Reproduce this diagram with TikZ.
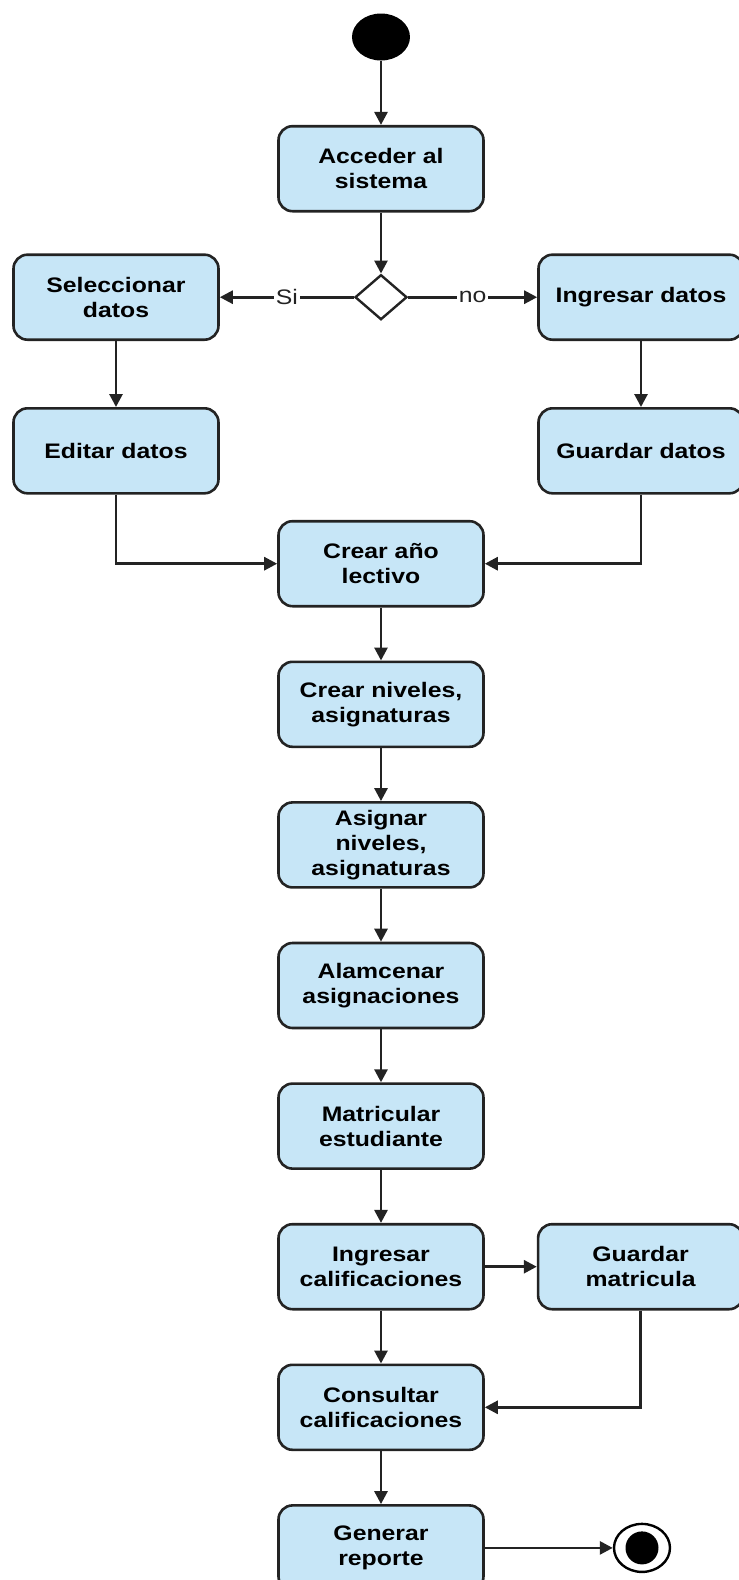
\documentclass[tikz,border=0pt]{standalone}
\usepackage{fontspec}
\setmainfont{Liberation Sans}[FakeStretch=1.18]
\usepackage{tikz}
\usetikzlibrary{
    positioning,
    arrows.meta,
    shapes.geometric
}
\definecolor{actfill}{RGB}{199,230,247}
\definecolor{lineclr}{RGB}{35,35,35}

\begin{document}
\begin{tikzpicture}[
    node distance=26.5pt,
    every node/.style={font=\fontsize{10.5pt}{12.5pt}\selectfont},
    activity/.style={rectangle, rounded corners=7pt, draw=lineclr, fill=actfill, line width=1.3pt, align=center, minimum width=102.5pt, minimum height=42.5pt, font=\fontsize{10.5pt}{12.5pt}\selectfont\bfseries},
    choice/.style={diamond, draw=lineclr, fill=white, line width=1.2pt, minimum width=26pt, minimum height=22.5pt, inner sep=0pt},
    startnode/.style={ellipse, fill=black, minimum width=29pt, minimum height=23.5pt, inner sep=0pt},
    endnode/.style={ellipse, draw=black, fill=white, line width=1.2pt, minimum width=28pt, minimum height=24pt, inner sep=0pt},
    guard/.style={fill=white, inner sep=1pt, text=lineclr},
    arrow/.style={-{Triangle[length=6.5pt, width=6.5pt]}, line width=1.4pt, draw=lineclr}
]
\useasboundingbox (-190.5pt,18.5pt) rectangle (179pt,-771.5pt);

\node[startnode] (start) at (0,0) {};
\node[activity, below=32pt of start] (acceder) {Acceder al\\sistema};
\node[choice, below=30.5pt of acceder] (decision) {};
\node[activity, left=67pt of decision] (seleccionar) {Seleccionar\\datos};
\node[activity, right=64.5pt of decision] (ingresar) {Ingresar datos};
\node[activity, below=33pt of seleccionar] (editar) {Editar datos};
\node[activity, below=33pt of ingresar] (guardar) {Guardar datos};

\node[activity, below=99.5pt of decision] (crear) {Crear año\\lectivo};
\node[activity, below=of crear] (niveles) {Crear niveles,\\asignaturas};
\node[activity, below=of niveles] (asignar) {Asignar\\niveles,\\asignaturas};
\node[activity, below=of asignar] (almacenar) {Alamcenar\\asignaciones};
\node[activity, below=of almacenar] (matricular) {Matricular\\estudiante};
\node[activity, below=of matricular] (calificar) {Ingresar\\calificaciones};
\node[activity, right=26pt of calificar] (guardarmat) {Guardar\\matricula};
\node[activity, below=of calificar] (consultar) {Consultar\\calificaciones};
\node[activity, below=of consultar] (reporte) {Generar\\reporte};

\node[endnode, right=64pt of reporte] (fin) {};
\node[circle, fill=black, minimum size=16.5pt, inner sep=0pt] (finin) at (fin) {};

\draw[arrow] (start) -- (acceder);
\draw[arrow] (acceder) -- (decision);
\draw[arrow] (decision) -- node[guard] {Si} (seleccionar);
\draw[arrow] (decision) -- node[guard] {no} (ingresar);
\draw[arrow] (seleccionar) -- (editar);
\draw[arrow] (ingresar) -- (guardar);
\draw[arrow] (editar) |- (crear);
\draw[arrow] (guardar) |- (crear);
\draw[arrow] (crear) -- (niveles);
\draw[arrow] (niveles) -- (asignar);
\draw[arrow] (asignar) -- (almacenar);
\draw[arrow] (almacenar) -- (matricular);
\draw[arrow] (matricular) -- (calificar);
\draw[arrow] (calificar) -- (guardarmat);
\draw[arrow] (calificar) -- (consultar);
\draw[arrow] (guardarmat) |- (consultar);
\draw[arrow] (consultar) -- (reporte);
\draw[arrow] (reporte) -- (fin);

\end{tikzpicture}
\end{document}
